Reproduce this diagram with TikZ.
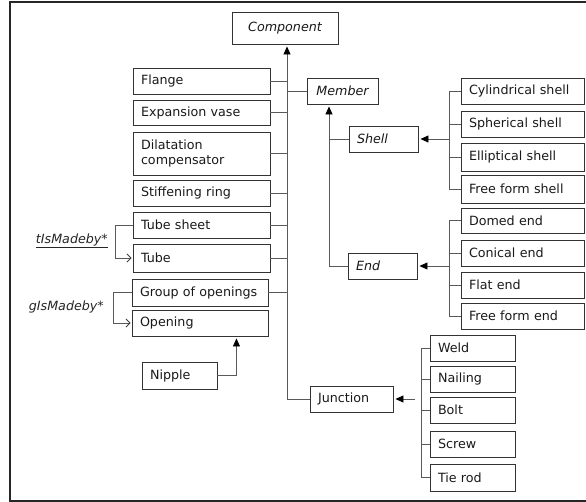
\documentclass[tikz,border=0pt]{standalone}
\usepackage{fontspec}
\setmainfont{DejaVu Sans}
\usetikzlibrary{arrows.meta,calc}
\begin{document}
\begin{tikzpicture}[x=1pt,y=-1pt,
  bx/.style={draw=black!80, line width=0.9pt, inner xsep=8pt, inner ysep=0pt,
    text width=#1, align=left, minimum height=26pt, anchor=center,
    font=\fontsize{12.7}{15.5}\selectfont, text=black!90},
  ibx/.style={bx=#1, font=\fontsize{12.7}{15.5}\selectfont\itshape},
  cbx/.style={ibx=#1, align=center},
  ln/.style={draw=black!65, line width=0.8pt},
  arrf/.style={-{Triangle[length=8pt,width=7pt,color=black]}, shorten >=2pt},
  arro/.style={-{Straight Barb[length=4pt,width=8pt,color=black!75]}, shorten >=1pt},
  lbl/.style={font=\fontsize{12.7}{15.5}\selectfont\itshape, inner sep=0pt, text=black!85}
]
\useasboundingbox (0,0) rectangle (586,502);
\draw[line width=2pt, draw=black!85] (586,2) -- (10,2) -- (10,501) -- (586,501);

% top
\node[cbx=90, minimum height=32pt] (comp) at (285,28) {Component};

% left column
\node[bx=121] (flange) at (201.5,81) {Flange};
\node[bx=121, minimum height=25pt] (exp) at (201.5,112.5) {Expansion vase};
\node[bx=121, minimum height=43pt] (dil) at (201.5,153.5) {Dilatation\\compensator};
\node[bx=121] (stiff) at (201.5,193) {Stiffening ring};
\node[bx=121] (tsheet) at (201.5,225) {Tube sheet};
\node[bx=121, minimum height=28pt] (tube) at (201.5,258) {Tube};
\node[bx=120, minimum height=27pt] (group) at (200,292.5) {Group of openings};
\node[bx=120] (opening) at (200,323) {Opening};
\node[bx=59, minimum height=27pt] (nipple) at (179.5,375.5) {Nipple};

% member branch
\node[cbx=55] (member) at (342.5,91) {Member};
\node[ibx=53] (shell) at (383.5,139) {Shell};
\node[ibx=53] (end) at (382.5,266) {End};
\node[bx=67] (junction) at (351.5,399) {Junction};

% shells
\node[bx=107] (cyl) at (522.5,91) {Cylindrical shell};
\node[bx=107] (sph) at (522.5,124) {Spherical shell};
\node[bx=107, minimum height=28pt] (ell) at (522.5,157) {Elliptical shell};
\node[bx=107, minimum height=28pt] (ffs) at (522.5,189) {Free form shell};
% ends
\node[bx=107, minimum height=25pt] (dome) at (522.5,220.5) {Domed end};
\node[bx=107] (con) at (522.5,253) {Conical end};
\node[bx=107] (flat) at (522.5,285) {Flat end};
\node[bx=107] (ffe) at (522.5,316) {Free form end};
% junctions
\node[bx=69] (weld) at (472.5,348) {Weld};
\node[bx=69] (nail) at (472.5,379) {Nailing};
\node[bx=69] (bolt) at (472.5,410) {Bolt};
\node[bx=69] (screw) at (472.5,444) {Screw};
\node[bx=69, minimum height=27pt] (tie) at (472.5,477.5) {Tie rod};

% labels
\node[lbl, anchor=east] (tlab) at (108,241) {\underline{tIsMadeby*}};
\node[lbl, anchor=east] (glab) at (104,307) {gIsMadeby*};

% coordinates
\coordinate (mx) at (287,0);
\coordinate (my) at (329,0);
\coordinate (sb) at (449,0);
\coordinate (jb) at (421,0);
\coordinate (ja) at (415,0);
\coordinate (tb) at (115,0);
\coordinate (gb) at (113,0);

% main trunk
\draw[ln, arrf] (mx |- junction.west) -- (mx |- comp.south);
\draw[ln] (mx |- junction.west) -- (junction.west);
\foreach \n in {flange,exp,dil,stiff,tsheet,tube,group}
  \draw[ln] (\n.east) -- (\n.east -| mx);
\draw[ln] (mx |- member.west) -- (member.west);

% member subtree
\draw[ln, arrf] (end.west) -- (my |- end.west) -- (my |- member.south);
\draw[ln] (my |- shell.west) -- (shell.west);

% shell bracket
\draw[ln] (cyl.west) -- (sb |- cyl.west) -- (sb |- ffs.west) -- (ffs.west);
\foreach \n in {sph,ell}
  \draw[ln] (\n.west) -- (\n.west -| sb);
\draw[ln, arrf] (sb |- shell.east) -- (shell.east);

% end bracket
\draw[ln] (dome.west) -- (sb |- dome.west) -- (sb |- ffe.west) -- (ffe.west);
\foreach \n in {con,flat}
  \draw[ln] (\n.west) -- (\n.west -| sb);
\draw[ln, arrf] (sb |- end.east) -- (end.east);

% junction bracket
\draw[ln] (weld.west) -- (jb |- weld.west) -- (jb |- tie.west) -- (tie.west);
\foreach \n in {nail,bolt,screw}
  \draw[ln] (\n.west) -- (\n.west -| jb);
\draw[ln, arrf] (ja |- junction.east) -- (junction.east);

% nipple
\draw[ln, arrf] (nipple.east) -- ++(19,0) coordinate (nk) -- (nk |- opening.south);

% is-made-by brackets
\draw[ln, arro] (tsheet.west) -- (tb |- tsheet.west) -- (tb |- tube.west) -- (tube.west);
\draw[ln, arro] (group.west) -- (gb |- group.west) -- (gb |- opening.west) -- (opening.west);
\end{tikzpicture}
\end{document}
